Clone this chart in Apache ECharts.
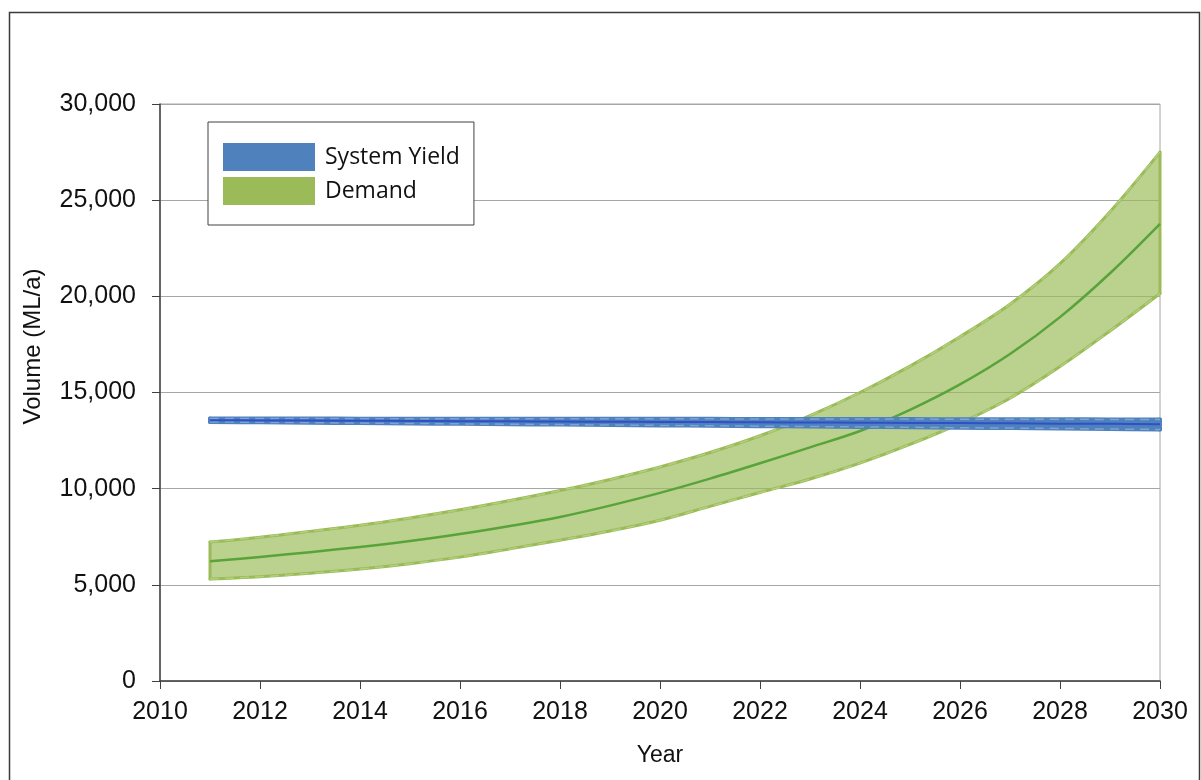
<!DOCTYPE html>
<html>
<head>
<meta charset="utf-8">
<script src="https://cdn.jsdelivr.net/npm/echarts@6/dist/echarts.min.js"></script>
<style>
  html, body { margin: 0; padding: 0; background: #fff; }
  #chart { width: 1201px; height: 780px; }
</style>
</head>
<body>
<div id="chart"></div>
<script>
// Projection years
const years = [2011, 2012, 2013, 2014, 2015, 2016, 2017, 2018, 2019, 2020,
               2021, 2022, 2023, 2024, 2025, 2026, 2027, 2028, 2029, 2030];

// Demand range (ML/a): high, expected and low scenarios
const demandHigh = [7230, 7480, 7780, 8100, 8480, 8900, 9380, 9900, 10480, 11130,
                    11880, 12750, 13800, 15000, 16370, 17900, 19590, 21700, 24400, 27500];
const demandMid  = [6230, 6450, 6700, 6970, 7280, 7640, 8060, 8530, 9120, 9780,
                    10520, 11320, 12150, 13000, 14100, 15420, 17000, 18920, 21200, 23770];
const demandLow  = [5300, 5420, 5600, 5820, 6100, 6440, 6870, 7320, 7800, 8360,
                    9080, 9800, 10500, 11330, 12300, 13400, 14700, 16350, 18200, 20150];

// System yield range (ML/a)
const yieldHigh = [13650, 13650, 13650, 13640, 13640, 13640, 13640, 13630, 13630, 13630,
                   13630, 13620, 13620, 13620, 13620, 13610, 13610, 13610, 13600, 13600];
const yieldMid  = [13560, 13550, 13540, 13530, 13520, 13510, 13500, 13490, 13480, 13470,
                   13460, 13450, 13440, 13430, 13420, 13410, 13400, 13380, 13370, 13350];
const yieldLow  = [13470, 13450, 13430, 13410, 13390, 13370, 13350, 13330, 13310, 13290,
                   13270, 13250, 13230, 13210, 13190, 13170, 13150, 13130, 13100, 13080];

// Axis ticks
const xTicks = { min: 2010, max: 2030, step: 2 };
const yTicks = { min: 0, max: 30000, step: 5000 };

const FONT = "'Liberation Sans', Arial, sans-serif";

// Builds a renderItem that draws a filled range band with its edges and centre line
function bandRenderer(high, mid, low, style) {
  return function (params, api) {
    const top = years.map((y, i) => api.coord([y, high[i]]));
    const bottom = years.map((y, i) => api.coord([y, low[i]]));
    const centre = years.map((y, i) => api.coord([y, mid[i]]));
    const n = years.length - 1;
    const poly = top.concat(bottom.slice().reverse());
    const edge = { fill: null, stroke: style.edge, lineWidth: style.edgeWidth, lineCap: 'round', lineJoin: 'round' };
    const dash = { fill: null, stroke: style.dash, lineWidth: style.dashWidth, lineDash: [9, 6] };
    return {
      type: 'group',
      children: [
        { type: 'polygon', shape: { points: poly }, style: { fill: style.fill, stroke: null } },
        { type: 'polyline', shape: { points: top, smooth: 0.35 }, style: edge },
        { type: 'polyline', shape: { points: bottom, smooth: 0.35 }, style: edge },
        { type: 'line', shape: { x1: top[0][0], y1: top[0][1], x2: bottom[0][0], y2: bottom[0][1] }, style: edge },
        { type: 'line', shape: { x1: top[n][0], y1: top[n][1], x2: bottom[n][0], y2: bottom[n][1] }, style: edge },
        { type: 'polyline', shape: { points: top, smooth: 0.35 }, style: dash },
        { type: 'polyline', shape: { points: bottom, smooth: 0.35 }, style: dash },
        { type: 'polyline', shape: { points: centre, smooth: 0.35 },
          style: { fill: null, stroke: style.centre, lineWidth: style.centreWidth } }
      ]
    };
  };
}

const chart = echarts.init(document.getElementById('chart'), null, { renderer: 'canvas' });

chart.setOption({
  animation: false,
  backgroundColor: '#ffffff',
  grid: {
    left: 160, right: 41, top: 104, bottom: 99,
    show: true, borderColor: '#a6a6a6', borderWidth: 1, backgroundColor: 'transparent'
  },
  graphic: [
    { type: 'rect', left: 7, top: 10, z: 100, silent: true,
      shape: { x: 0, y: 0, width: 1190, height: 820 },
      style: { fill: null, stroke: '#3a3a3a', lineWidth: 1.5 } }
  ],
  legend: {
    orient: 'vertical',
    left: 208, top: 122,
    padding: [21, 14, 20, 15],
    itemWidth: 92, itemHeight: 28, itemGap: 6,
    backgroundColor: '#ffffff',
    borderColor: '#404040', borderWidth: 1,
    textStyle: { fontFamily: "'Open Sans', 'Noto Sans', sans-serif", fontSize: 23, color: '#111', padding: [0, 0, 0, 5] },
    selectedMode: false,
    data: [
      { name: 'System Yield', icon: 'rect', itemStyle: { color: '#4f81bd' } },
      { name: 'Demand', icon: 'rect', itemStyle: { color: '#9bbb59' } }
    ]
  },
  xAxis: {
    type: 'value',
    min: xTicks.min, max: xTicks.max, interval: xTicks.step,
    name: 'Year', nameLocation: 'middle', nameGap: 63,
    nameTextStyle: { fontFamily: FONT, fontSize: 23, color: '#111' },
    axisLine: { show: true, onZero: false, lineStyle: { color: '#404040', width: 1.5 } },
    axisTick: { show: true, inside: false, length: 8, lineStyle: { color: '#404040', width: 1 } },
    axisLabel: { fontFamily: FONT, fontSize: 25, color: '#111', margin: 19, formatter: v => String(v) },
    splitLine: { show: false }
  },
  yAxis: {
    type: 'value',
    min: yTicks.min, max: yTicks.max, interval: yTicks.step,
    name: 'Volume (ML/a)', nameLocation: 'middle', nameGap: 115,
    nameTextStyle: { fontFamily: FONT, fontSize: 24, color: '#111', padding: [0, 0, 0, 92] },
    axisLine: { show: true, lineStyle: { color: '#404040', width: 1.5 } },
    axisTick: { show: true, inside: false, length: 8, lineStyle: { color: '#404040', width: 1 } },
    axisLabel: { fontFamily: FONT, fontSize: 25, color: '#111', margin: 24,
                 formatter: v => v.toLocaleString('en-US') },
    splitLine: { show: true, lineStyle: { color: '#a6a6a6', width: 1 } }
  },
  series: [
    {
      name: 'Demand',
      type: 'custom',
      coordinateSystem: 'cartesian2d',
      itemStyle: { color: '#9bbb59' },
      z: 2,
      encode: { x: 0, y: 1 },
      data: [[years[0], demandMid[0]]],
      renderItem: bandRenderer(demandHigh, demandMid, demandLow, {
        fill: 'rgba(155,187,89,0.68)', edge: '#9bbb59', edgeWidth: 3,
        dash: '#b2cf7c', dashWidth: 1.5, centre: '#58a43a', centreWidth: 2.5
      })
    },
    {
      name: 'System Yield',
      type: 'custom',
      coordinateSystem: 'cartesian2d',
      itemStyle: { color: '#4f81bd' },
      z: 3,
      encode: { x: 0, y: 1 },
      data: [[years[0], yieldMid[0]]],
      renderItem: bandRenderer(yieldHigh, yieldMid, yieldLow, {
        fill: '#4f81bd', edge: '#4f81bd', edgeWidth: 4,
        dash: '#7ea3d4', dashWidth: 1.5, centre: '#3050c8', centreWidth: 2
      })
    }
  ]
});
</script>
</body>
</html>
